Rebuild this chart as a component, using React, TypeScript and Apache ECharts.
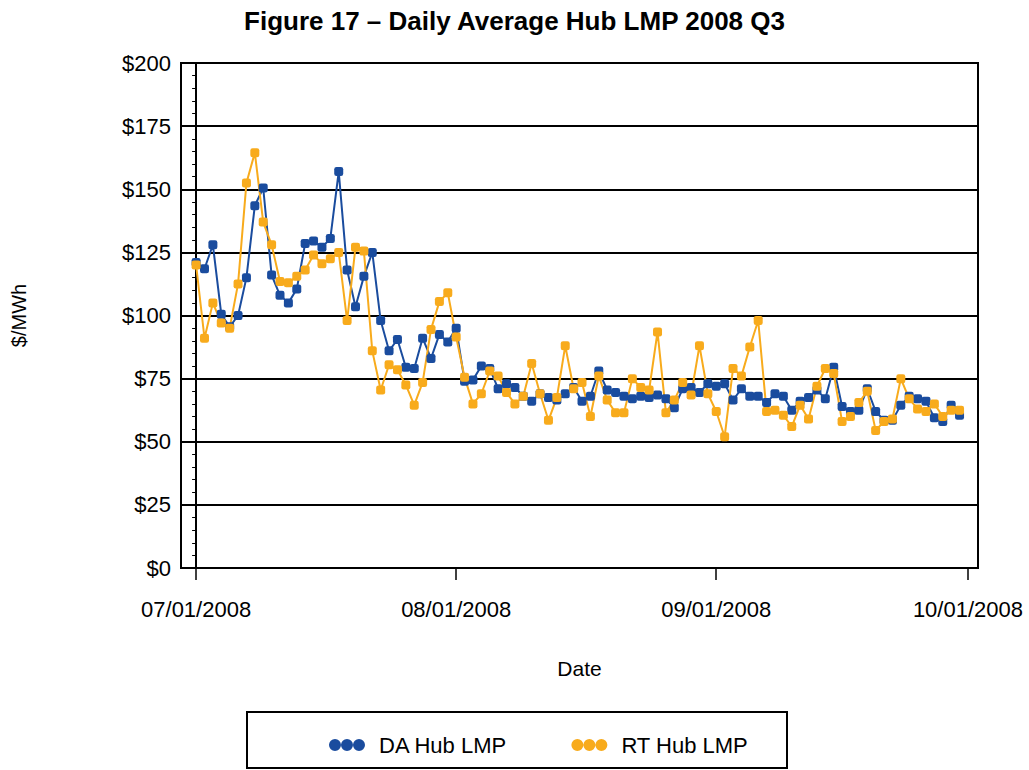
import React, { useEffect, useRef } from "react";
import * as echarts from "echarts";

const TITLE = "Figure 17 – Daily Average Hub LMP 2008 Q3";
const SERIES_NAMES = ["DA Hub LMP", "RT Hub LMP"];
const START_YEAR = 2008;
const START_MONTH = 6; // July (0-based)
const START_DAY = 1;

// Daily values, 07/01/2008 .. 09/30/2008
const daValues = [
  121, 118.5, 128, 100.5, 95.5, 100, 115, 143.5, 150.5, 116,
  108, 105, 110.5, 128.5, 129.5, 127, 130.5, 157, 118, 103.5,
  115.5, 125, 98, 86, 90.5, 79.5, 79, 91, 83, 92.5,
  89.5, 95, 74, 74.5, 80, 79, 71, 73, 71.5, 68,
  66, 69, 67.5, 66.5, 69, 71.5, 66, 68, 78, 70.5,
  69.5, 68, 67, 68, 67.5, 68.5, 67, 63.5, 71, 71.5,
  69.5, 73, 72, 73, 66.5, 71, 68, 68, 65.5, 69,
  68, 62.5, 66, 67.5, 70.5, 67, 79.5, 64, 62, 62.5,
  71, 62, 58.5, 58.5, 64.5, 68, 67, 66, 59.5, 58,
  64.5, 60.5,
];
const rtValues = [
  120, 91, 105, 97, 95, 112.5, 152.5, 164.5, 137, 128,
  113.5, 113, 115.5, 118, 124, 120.5, 122.5, 125, 98, 127,
  125.5, 86, 70.5, 80.5, 78.5, 72.5, 64.5, 73.5, 94.5, 105.5,
  109, 91.5, 75.5, 65, 69, 78, 76, 69.5, 65, 68,
  81, 69, 58.5, 67.5, 88, 71, 73.5, 60, 76, 66.5,
  61.5, 61.5, 75, 71.5, 70.5, 93.5, 61.5, 66.5, 73.5, 68.5,
  88, 69, 62, 52, 79, 76, 87.5, 98, 62, 62.5,
  60.5, 56, 64.5, 59, 72, 79, 77, 58, 60, 65.5,
  70, 54.5, 58, 59, 75, 67, 63, 62, 65, 60,
  62.5, 62.5,
];
// x tick positions (days from 07/01/2008): 07/01, 08/01, 09/01, 10/01
const xTickDays = [0, 31, 62, 92];
const yTickMin = 0;
const yTickMax = 200;
const yTickStep = 25;

const BLUE = "#1A4C9E";
const ORANGE = "#F8AB1C";
const FONT = "'Liberation Sans', Arial, Helvetica, sans-serif";

function dayToLabel(d: number): string {
  const dt = new Date(START_YEAR, START_MONTH, START_DAY + Math.round(d));
  const mm = String(dt.getMonth() + 1).padStart(2, "0");
  const dd = String(dt.getDate()).padStart(2, "0");
  return `${mm}/${dd}/${dt.getFullYear()}`;
}

const ICON = "path://M0,6a6,6 0 1,0 12,0a6,6 0 1,0 -12,0z M12,6a6,6 0 1,0 12,0a6,6 0 1,0 -12,0z M24,6a6,6 0 1,0 12,0a6,6 0 1,0 -12,0z";

export default function App() {
  const ref = useRef<HTMLDivElement>(null);
  useEffect(() => {
    if (!ref.current) return;
    const chart = echarts.init(ref.current, null, { renderer: "svg" });
    const da = daValues.map((v, i) => [i, v]);
    const rt = rtValues.map((v, i) => [i, v]);
    chart.setOption({
      animation: false,
      backgroundColor: "#fff",
      textStyle: { fontFamily: FONT, color: "#000" },
      title: {
        text: TITLE,
        left: "center",
        top: 3,
        textStyle: { fontFamily: FONT, fontSize: 26, fontWeight: "bold", color: "#000" },
      },
      grid: {
        left: 181,
        right: 51,
        top: 63,
        bottom: 202,
        show: true,
        borderColor: "#000",
        borderWidth: 2,
        backgroundColor: "transparent",
      },
      graphic: [
        {
          type: "rect",
          shape: { x: 247, y: 712, width: 540, height: 56 },
          style: { fill: "none", stroke: "#000", lineWidth: 2 },
        },
      ],
      legend: {
        left: 324,
        top: 729,
        itemWidth: 36,
        itemHeight: 12,
        itemGap: 64,
        icon: ICON,
        textStyle: { fontFamily: FONT, fontSize: 22, color: "#000", padding: [0, 0, 0, 9] },
        data: SERIES_NAMES,
      },
      xAxis: {
        type: "value",
        min: -1.8,
        max: 93.2,
        name: "Date",
        nameLocation: "middle",
        nameGap: 90,
        nameTextStyle: { fontFamily: FONT, fontSize: 21, color: "#000" },
        axisLine: { show: true, lineStyle: { color: "#000", width: 2 } },
        axisTick: { show: true, customValues: xTickDays, length: 12, lineStyle: { color: "#000", width: 1.5 } },
        axisLabel: {
          customValues: xTickDays,
          formatter: (v: number) => dayToLabel(v),
          fontFamily: FONT,
          fontSize: 22,
          color: "#000",
          margin: 30,
        },
        splitLine: { show: false },
      },
      yAxis: {
        type: "value",
        min: yTickMin,
        max: yTickMax,
        interval: yTickStep,
        name: "$/MWh",
        nameLocation: "middle",
        nameGap: 152,
        nameRotate: 90,
        nameTextStyle: { fontFamily: FONT, fontSize: 20, color: "#000" },
        axisLine: { show: true, lineStyle: { color: "#000", width: 2 } },
        axisTick: { show: true, length: 7, lineStyle: { color: "#000", width: 1.5 } },
        minorTick: { show: true, splitNumber: 5, length: 4, lineStyle: { color: "#000", width: 1 } },
        axisLabel: {
          formatter: (v: number) => "$" + v,
          fontFamily: FONT,
          fontSize: 22,
          color: "#000",
          margin: 10,
        },
        splitLine: { show: true, lineStyle: { color: "#000", width: 2 } },
      },
      series: [
        {
          name: SERIES_NAMES[0],
          type: "line",
          data: da,
          symbol: "roundRect",
          symbolSize: 9,
          showAllSymbol: true,
          lineStyle: { color: BLUE, width: 2 },
          itemStyle: { color: BLUE },
        },
        {
          name: SERIES_NAMES[1],
          type: "line",
          data: rt,
          symbol: "roundRect",
          symbolSize: 9,
          showAllSymbol: true,
          lineStyle: { color: ORANGE, width: 2 },
          itemStyle: { color: ORANGE },
        },
      ],
    });
    return () => chart.dispose();
  }, []);
  return (
    <div
      ref={ref}
      style={{ position: "fixed", left: 0, top: 0, width: 1029, height: 770 }}
    />
  );
}
